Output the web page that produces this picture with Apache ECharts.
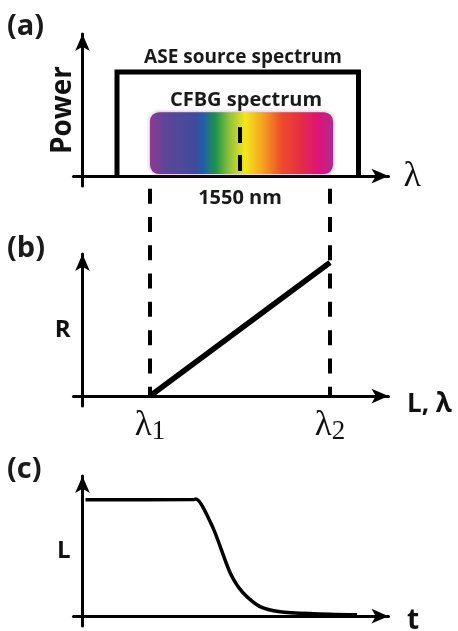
<!DOCTYPE html>
<html><head><meta charset="utf-8">
<script src="https://cdn.jsdelivr.net/npm/echarts@6/dist/echarts.min.js"></script>
<style>html,body{margin:0;padding:0;background:#fff}#c{width:458px;height:631px}</style>
</head><body><div id="c"></div>
<script>
// ---- Panel (a): ASE source spectrum outline ----
const aseX = [1.15, 1.15, 9.2, 9.2];
const aseY = [0, 7.32, 7.32, 0];
// CFBG spectrum band: [xStart, xEnd, yBottom, yTop]
const cfbgBand = [2.25, 8.35, 0.14, 4.5];
const centerX = 5.25;
const centerY = [3.45, 0.28];
const centerTickValues = [5.25];
const centerTickLabels = ['1550 nm'];
// ---- Panel (b): reflectivity vs L, λ ----
const lambdaTicks = [2.25, 8.25];
const lambdaTickSubs = ['1', '2'];
const reflX = [2.25, 8.25];
const reflY = [0, 9.4];
const dashTop = 14.6;
// ---- Panel (c): L vs t ----
const decayT = [0.1, 3.72, 3.78, 4.35, 4.92, 5.35, 5.92, 6.58, 7.68, 9.15];
const decayL = [8.3, 8.32, 8.36, 6.3, 3.1, 1.67, 0.68, 0.32, 0.18, 0.1];

const zip = (a, b) => a.map((v, i) => [v, b[i]]);
const SANS = '"Open Sans", "DejaVu Sans", sans-serif';
const SERIF = '"Liberation Serif", "DejaVu Serif", serif';

const axisLine = {show: true, onZero: true, symbol: ['none', 'arrow'], symbolSize: [11, 17],
  lineStyle: {color: '#000', width: 3}};
function xAx(idx, extra) {
  return Object.assign({type: 'value', gridIndex: idx, min: -0.3, max: 10.2,
    axisLine: axisLine, axisTick: {show: false}, splitLine: {show: false}, axisLabel: {show: false},
    nameLocation: 'end'}, extra);
}
function yAx(idx, extra) {
  return Object.assign({type: 'value', gridIndex: idx, min: -0.7, max: 10,
    axisLine: axisLine, axisTick: {show: false}, splitLine: {show: false}, axisLabel: {show: false},
    nameLocation: 'middle', nameRotate: 0}, extra);
}

const spectrumFill = {type: 'linear', x: 0, y: 0, x2: 1, y2: 0, global: false, colorStops: [
  {offset: 0, color: '#8e3a90'}, {offset: 0.08, color: '#5e4598'}, {offset: 0.25, color: '#3f4c9d'},
  {offset: 0.29, color: '#1f5ea8'}, {offset: 0.36, color: '#1e9448'}, {offset: 0.43, color: '#8cc03c'},
  {offset: 0.52, color: '#f4e61c'}, {offset: 0.61, color: '#f6a623'}, {offset: 0.72, color: '#ee4a2a'},
  {offset: 0.82, color: '#e52e45'}, {offset: 0.92, color: '#de1379'}, {offset: 1, color: '#b02a8e'}]};

const chart = echarts.init(document.getElementById('c'), null, {renderer: 'canvas'});
chart.setOption({
  backgroundColor: '#ffffff',
  animation: false,
  grid: [
    {left: 73.5, width: 315, top: 34, height: 152, outerBoundsMode: 'none', containLabel: false},
    {left: 73.5, width: 315, top: 254, height: 152, outerBoundsMode: 'none', containLabel: false},
    {left: 73.5, width: 315, top: 476, height: 150, outerBoundsMode: 'none', containLabel: false}
  ],
  xAxis: [
    xAx(0, {name: 'λ', nameGap: 15, nameTextStyle: {fontFamily: SERIF, fontSize: 36, color: '#111', padding: [0, 0, 8, 0]},
      axisLabel: {show: true, customValues: centerTickValues, margin: 2,
        formatter: v => centerTickLabels[centerTickValues.indexOf(v)] || '',
        fontFamily: SANS, fontWeight: 'bold', fontSize: 20, color: '#1a1a1a'}}),
    xAx(1, {axisLabel: {show: true, customValues: lambdaTicks, margin: 0,
        formatter: v => '{l|λ}{s|' + (lambdaTickSubs[lambdaTicks.indexOf(v)] || '') + '}',
        rich: {l: {fontFamily: SERIF, fontSize: 35, color: '#111'},
               s: {fontFamily: SERIF, fontSize: 27, color: '#111', padding: [12, 0, 0, 0]}}}}),
    xAx(2, {})
  ],
  yAxis: [
    yAx(0, {name: 'Power', nameRotate: 90, nameGap: -4, nameTextStyle: {fontFamily: SANS, fontWeight: 'bold', fontSize: 28, color: '#111'}}),
    yAx(1, {name: 'R', nameGap: 3, nameTextStyle: {fontFamily: SANS, fontWeight: 'bold', fontSize: 24, color: '#111', padding: [0, 0, 14, 0]}}),
    yAx(2, {name: 'L', nameGap: 3, nameTextStyle: {fontFamily: SANS, fontWeight: 'bold', fontSize: 24, color: '#111', padding: [0, 0, 8, 0]}})
  ],
  series: [
    {type: 'custom', xAxisIndex: 0, yAxisIndex: 0, z: 1, data: [cfbgBand],
      renderItem: (params, api) => {
        const p0 = api.coord([api.value(0), api.value(3)]);
        const p1 = api.coord([api.value(1), api.value(2)]);
        return {type: 'rect', shape: {x: p0[0], y: p0[1], width: p1[0] - p0[0], height: p1[1] - p0[1], r: 9},
          style: {fill: spectrumFill, shadowBlur: 4, shadowColor: 'rgba(150,60,150,0.5)'}};
      }},
    {type: 'line', xAxisIndex: 0, yAxisIndex: 0, z: 3, data: zip(aseX, aseY), symbol: 'none',
      lineStyle: {color: '#000', width: 5, join: 'miter', cap: 'butt'}},
    {type: 'line', xAxisIndex: 0, yAxisIndex: 0, z: 3, data: [[centerX, centerY[0]], [centerX, centerY[1]]], symbol: 'none',
      lineStyle: {color: '#000', width: 4, type: [16, 12], cap: 'butt'}},
    {type: 'line', xAxisIndex: 1, yAxisIndex: 1, z: 3, data: zip(reflX, reflY), symbol: 'none',
      lineStyle: {color: '#000', width: 5.5, cap: 'butt'}},
    ...lambdaTicks.map(x => ({type: 'line', xAxisIndex: 1, yAxisIndex: 1, z: 3, clip: false,
      data: [[x, dashTop], [x, 0]], symbol: 'none',
      lineStyle: {color: '#000', width: 4, type: [15, 13.3], cap: 'butt'}})),
    {type: 'line', xAxisIndex: 2, yAxisIndex: 2, z: 3, data: zip(decayT, decayL), symbol: 'none', smooth: 0.25,
      lineStyle: {color: '#000', width: 3.5}}
  ],
  graphic: [
    {type: 'text', left: 7, top: 12, style: {text: '(a)', font: 'bold 29px ' + SANS, fill: '#1a1a1a'}},
    {type: 'text', left: 7, top: 234, style: {text: '(b)', font: 'bold 29px ' + SANS, fill: '#1a1a1a'}},
    {type: 'text', left: 7, top: 455, style: {text: '(c)', font: 'bold 29px ' + SANS, fill: '#1a1a1a'}},
    {type: 'text', x: 243, y: 58, style: {text: 'ASE source spectrum', font: 'bold 19px ' + SANS, fill: '#1a1a1a', align: 'center', verticalAlign: 'middle'}},
    {type: 'text', x: 246, y: 100, style: {text: 'CFBG spectrum', font: 'bold 20px ' + SANS, fill: '#1a1a1a', align: 'center', verticalAlign: 'middle'}},
    {type: 'text', x: 407, y: 405, style: {text: 'L, λ', font: 'bold 26px ' + SANS, fill: '#111', align: 'left', verticalAlign: 'middle'}},
    {type: 'text', x: 407, y: 621, style: {text: 't', font: 'bold 28px ' + SANS, fill: '#111', align: 'left', verticalAlign: 'middle'}}
  ]
});
</script></body></html>
